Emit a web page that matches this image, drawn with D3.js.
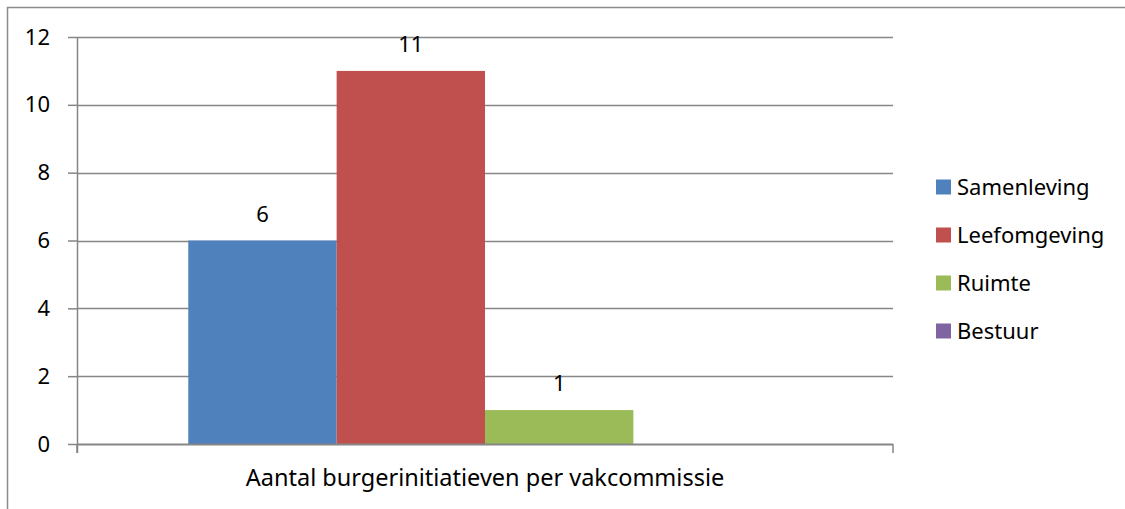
<!DOCTYPE html>
<html lang="nl">
<head>
  <meta charset="UTF-8" />
  <title>Aantal burgerinitiatieven per vakcommissie</title>
  <script src="https://d3js.org/d3.v7.min.js"></script>
  <style>
    body {
      margin: 0;
      background: #fff;
      font-family: "Noto Sans", sans-serif;
    }
    svg { display: block; }
    .tick text { font-size: 22px; fill: #000; font-family: "Noto Sans", sans-serif; }
  </style>
</head>
<body>
  <svg width="1125" height="509"></svg>

  <script>
    const categories = ["Aantal burgerinitiatieven per vakcommissie"];
    const seriesNames = ["Samenleving", "Leefomgeving", "Ruimte", "Bestuur"];
    const seriesValues = [6, 11, 1, 0];
    const seriesColors = ["#4F81BD", "#C0504D", "#9BBB59", "#8064A2"];
    const yTicks = [0, 2, 4, 6, 8, 10, 12];

    const svg = d3.select("svg");
    const plot = { left: 77, right: 893, top: 37, bottom: 444 };
    const axisColor = "#868686";
    const fontSize = 22;

    // outer chart border (clipped at right/bottom like the source)
    svg.append("rect")
      .attr("x", 7.5).attr("y", 7.5)
      .attr("width", 1200).attr("height", 600)
      .attr("fill", "none")
      .attr("stroke", "#8c8c8c")
      .attr("stroke-width", 1.5);

    const y = d3.scaleLinear().domain([0, 12]).range([plot.bottom, plot.top]);

    const x0 = d3.scaleBand()
      .domain(categories)
      .range([plot.left, plot.right])
      .paddingInner(0)
      .paddingOuter(0.1875);

    const x1 = d3.scaleBand()
      .domain(seriesNames)
      .range([0, x0.bandwidth()])
      .padding(0);

    // gridlines
    svg.append("g")
      .selectAll("line")
      .data(yTicks.filter(d => d > 0))
      .join("line")
      .attr("x1", plot.left).attr("x2", plot.right)
      .attr("y1", d => Math.round(y(d)) + 0.5)
      .attr("y2", d => Math.round(y(d)) + 0.5)
      .attr("stroke", axisColor)
      .attr("stroke-width", 1.5);

    // bars
    const rows = seriesNames.map((name, i) => ({ name, value: seriesValues[i], color: seriesColors[i] }));
    const group = svg.append("g").attr("transform", `translate(${x0(categories[0])},0)`);

    group.selectAll("rect")
      .data(rows)
      .join("rect")
      .attr("x", d => x1(d.name))
      .attr("y", d => y(d.value))
      .attr("width", x1.bandwidth())
      .attr("height", d => y(0) - y(d.value))
      .attr("fill", d => d.color);

    // data labels
    group.selectAll("text.lbl")
      .data(rows.filter(d => d.value > 0))
      .join("text")
      .attr("class", "lbl")
      .attr("x", d => x1(d.name) + x1.bandwidth() / 2)
      .attr("y", d => y(d.value) - 19)
      .attr("text-anchor", "middle")
      .attr("font-size", fontSize)
      .text(d => d.value);

    // y axis
    const yAxis = svg.append("g")
      .attr("transform", `translate(${plot.left},0)`)
      .call(d3.axisLeft(y).tickValues(yTicks).tickSize(9).tickPadding(18));
    yAxis.selectAll("line, path").attr("stroke", axisColor).attr("stroke-width", 1.5);
    yAxis.select(".domain").attr("d", `M0.5,${plot.top}V${plot.bottom + 9}`);

    // x axis
    const xAxisLine = svg.append("g");
    xAxisLine.append("line")
      .attr("x1", plot.left).attr("x2", plot.right)
      .attr("y1", plot.bottom + 0.5).attr("y2", plot.bottom + 0.5)
      .attr("stroke", axisColor).attr("stroke-width", 2);
    xAxisLine.selectAll("line.edge")
      .data([plot.left, plot.right])
      .join("line")
      .attr("class", "edge")
      .attr("x1", d => d).attr("x2", d => d)
      .attr("y1", plot.bottom).attr("y2", plot.bottom + 9)
      .attr("stroke", axisColor).attr("stroke-width", 1.5);

    svg.append("text")
      .attr("x", x0(categories[0]) + x0.bandwidth() / 2)
      .attr("y", 486)
      .attr("text-anchor", "middle")
      .attr("font-size", 23.5)
      .text(categories[0]);

    // legend
    const legend = svg.append("g").attr("transform", "translate(936,187)");
    const item = legend.selectAll("g")
      .data(rows)
      .join("g")
      .attr("transform", (d, i) => `translate(0,${i * 48})`);
    item.append("rect")
      .attr("x", 0).attr("y", -7.5)
      .attr("width", 15).attr("height", 15)
      .attr("fill", d => d.color);
    item.append("text")
      .attr("x", 21)
      .attr("y", 8)
      .attr("font-size", fontSize)
      .text(d => d.name);
  </script>
</body>
</html>
